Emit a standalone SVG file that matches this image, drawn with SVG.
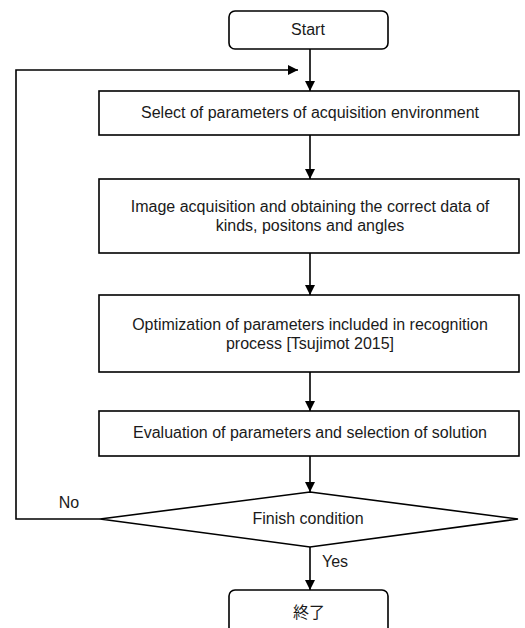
<svg xmlns="http://www.w3.org/2000/svg" width="525" height="628" viewBox="0 0 525 628">
<style>
.box{fill:#fff;stroke:#000;stroke-width:1.6}
.ln{fill:none;stroke:#000;stroke-width:1.6}
text{font-family:"Liberation Sans","Noto Sans CJK JP",sans-serif;font-size:16px;fill:#1a1a1a;text-anchor:middle}
</style>
<defs>
<marker id="ah" viewBox="0 0 10 10" refX="10" refY="5" markerWidth="10" markerHeight="10" markerUnits="userSpaceOnUse" orient="auto">
<path d="M0,0 L10,5 L0,10 Z" fill="#000"/>
</marker>
</defs>
<rect width="525" height="628" fill="#fff"/>
<g id="connectors">
<line class="ln" x1="310" y1="49" x2="310" y2="91" marker-end="url(#ah)"/>
<polyline class="ln" points="100,519 16,519 16,70 298,70" marker-end="url(#ah)"/>
<line class="ln" x1="310" y1="135" x2="310" y2="179" marker-end="url(#ah)"/>
<line class="ln" x1="310" y1="253" x2="310" y2="295" marker-end="url(#ah)"/>
<line class="ln" x1="310" y1="372" x2="310" y2="411" marker-end="url(#ah)"/>
<line class="ln" x1="310" y1="456" x2="310" y2="492" marker-end="url(#ah)"/>
<line class="ln" x1="310" y1="547" x2="310" y2="590" marker-end="url(#ah)"/>
<text x="69" y="508">No</text>
<text x="335" y="567">Yes</text>
</g>
<g id="start">
<rect class="box" x="229" y="11" width="159" height="38" rx="6"/>
<text x="308" y="35">Start</text>
</g>
<g id="select">
<rect class="box" x="99" y="91" width="420" height="44"/>
<text x="310" y="118">Select of parameters of acquisition environment</text>
</g>
<g id="acquire">
<rect class="box" x="99" y="179" width="420" height="74"/>
<text x="310" y="212">Image acquisition and obtaining the correct data of</text>
<text x="310" y="230.5">kinds, positons and angles</text>
</g>
<g id="optimize">
<rect class="box" x="99" y="295" width="420" height="77"/>
<text x="310" y="330">Optimization of parameters included in recognition</text>
<text x="310" y="348.5">process [Tsujimot 2015]</text>
</g>
<g id="evaluate">
<rect class="box" x="99" y="411" width="420" height="45"/>
<text x="310" y="438">Evaluation of parameters and selection of solution</text>
</g>
<g id="finish">
<polygon class="box" points="310,492 518,519 310,547 100,519"/>
<text x="308" y="524">Finish condition</text>
</g>
<g id="end">
<rect class="box" x="229" y="590" width="159" height="48" rx="6"/>
<text x="309" y="618">終了</text>
</g>
</svg>
